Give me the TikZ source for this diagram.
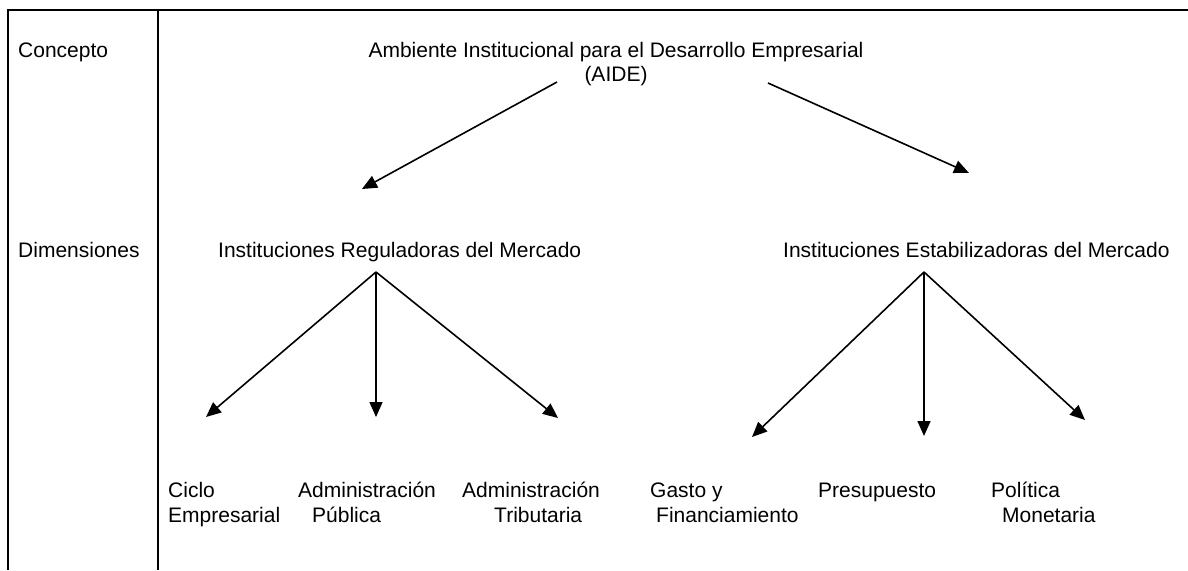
\documentclass[tikz,border=0pt]{standalone}
\usepackage{fontspec}
\setmainfont{Liberation Sans}
\usetikzlibrary{arrows.meta}
\tikzset{
  frameline/.style={line width=2pt, black},
  arr/.style={line width=1.6pt, -{Triangle[length=15pt,width=13pt]}},
  lbl/.style={inner sep=0pt, anchor=base west, align=left, font=\fontsize{21}{25}\selectfont},
  clbl/.style={inner sep=0pt, anchor=base, align=center, font=\fontsize{21}{24}\selectfont}
}
\begin{document}
\begin{tikzpicture}[x=1pt,y=-1pt]
\useasboundingbox (0,0) rectangle (1188,570);
% frame
\coordinate (tl) at (8,10);
\coordinate (tr) at (1188,10);
\coordinate (bl) at (8,570);
\coordinate (mt) at (158,10);
\coordinate (mb) at (158,570);
\draw[frameline] (tr) -- (tl) -- (bl);
\draw[frameline] (mt) -- (mb);
% row labels
\node[lbl] (concepto) at (18,57) {Concepto};
\node[lbl] (dimensiones) at (18,257) {Dimensiones};
% concept (base anchor = last line)
\node[clbl] (aide) at (616,81) {Ambiente Institucional para el Desarrollo Empresarial\\(AIDE)};
% dimensions
\node[lbl] (reg) at (218,257) {Instituciones Reguladoras del Mercado};
\node[lbl] (est) at (783,257) {Instituciones Estabilizadoras del Mercado};
% bottom items (base anchor = last line for two-line nodes)
\node[lbl] (ciclo) at (168,522) {Ciclo\\Empresarial};
\node[lbl] (adpub) at (298,522) {Administración\\\hspace*{14pt}Pública};
\node[lbl] (adtrib) at (462,522) {Administración\\\hspace*{32pt}Tributaria};
\node[lbl] (gasto) at (650,522) {Gasto y\\\hspace*{6pt}Financiamiento};
\node[lbl] (presu) at (818,497) {Presupuesto};
\node[lbl] (polit) at (991,522) {Política\\\hspace*{11pt}Monetaria};
% arrow coordinates
\coordinate (aideL) at (557,82);
\coordinate (aideR) at (768,83);
\coordinate (regIn) at (362,189);
\coordinate (estIn) at (969,173);
\coordinate (regO) at (376,272);
\coordinate (estO) at (924,272);
\coordinate (cicloIn) at (206,417);
\coordinate (adpubIn) at (376,417);
\coordinate (adtribIn) at (558,418);
\coordinate (gastoIn) at (752,437);
\coordinate (presuIn) at (924,436);
\coordinate (politIn) at (1085,420);
\draw[arr] (aideL) -- (regIn);
\draw[arr] (aideR) -- (estIn);
\draw[arr] (regO) -- (cicloIn);
\draw[arr] (regO) -- (adpubIn);
\draw[arr] (regO) -- (adtribIn);
\draw[arr] (estO) -- (gastoIn);
\draw[arr] (estO) -- (presuIn);
\draw[arr] (estO) -- (politIn);
\end{tikzpicture}
\end{document}
